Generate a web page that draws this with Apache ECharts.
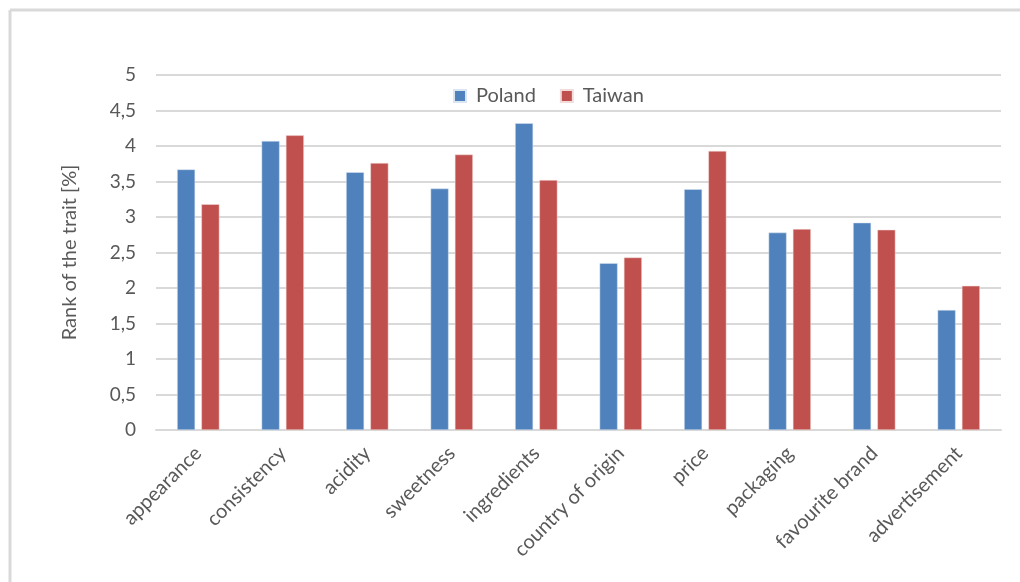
<!DOCTYPE html>
<html>
<head>
<meta charset="utf-8">
<script src="https://cdn.jsdelivr.net/npm/echarts@6/dist/echarts.min.js"></script>
<style>
  html, body { margin: 0; padding: 0; background: #fff; }
  #chart { width: 1020px; height: 582px; }
</style>
</head>
<body>
<div id="chart"></div>
<script>
const categories = ['appearance', 'consistency', 'acidity', 'sweetness', 'ingredients',
  'country of origin', 'price', 'packaging', 'favourite brand', 'advertisement']
const poland = [3.67, 4.07, 3.63, 3.40, 4.32, 2.35, 3.39, 2.78, 2.92, 1.69]
const taiwan = [3.18, 4.15, 3.76, 3.88, 3.52, 2.43, 3.93, 2.83, 2.82, 2.03]

const textColor = '#595959'
const fontFamily = 'Lato, "Open Sans", sans-serif'

const chart = echarts.init(document.getElementById('chart'))
chart.setOption({
  animation: false,
  textStyle: { fontFamily },
  graphic: [
    // light frame on top and left like the source image
    { type: 'line', shape: { x1: 10, y1: 10, x2: 1020, y2: 10 }, style: { stroke: '#d9d9d9', lineWidth: 3 } },
    { type: 'line', shape: { x1: 10, y1: 10, x2: 10, y2: 582 }, style: { stroke: '#d9d9d9', lineWidth: 3 } }
  ],
  legend: {
    top: 81,
    left: 448,
    itemWidth: 12,
    itemHeight: 12,
    itemGap: 24,
    icon: 'rect',
    textStyle: { color: textColor, fontSize: 20, fontFamily, padding: [0, 0, 0, 5] }
  },
  grid: {
    left: 156,
    right: 19,
    top: 75,
    bottom: 152
  },
  xAxis: {
    type: 'category',
    data: categories,
    axisLine: { lineStyle: { color: '#d9d9d9', width: 2 } },
    axisTick: { show: false },
    axisLabel: {
      rotate: 45,
      interval: 0,
      margin: 20,
      color: textColor,
      fontSize: 20,
      fontFamily
    }
  },
  yAxis: {
    type: 'value',
    min: 0,
    max: 5,
    interval: 0.5,
    name: 'Rank of the trait [%]',
    nameLocation: 'middle',
    nameGap: 76,
    nameTextStyle: { color: textColor, fontSize: 20, fontFamily },
    axisLine: { show: false },
    axisTick: { show: false },
    splitLine: { lineStyle: { color: '#d9d9d9', width: 2 } },
    axisLabel: {
      margin: 20,
      color: textColor,
      fontSize: 19,
      fontFamily,
      formatter: v => String(v).replace('.', ',')
    }
  },
  series: [
    {
      name: 'Poland',
      type: 'bar',
      data: poland,
      barWidth: 18,
      barGap: '35%',
      itemStyle: { color: '#4f81bd', borderColor: '#dbe5f1', borderWidth: 0.5 }
    },
    {
      name: 'Taiwan',
      type: 'bar',
      data: taiwan,
      barWidth: 18,
      itemStyle: { color: '#c0504d', borderColor: '#f2dcdb', borderWidth: 0.5 }
    }
  ]
})
</script>
</body>
</html>
